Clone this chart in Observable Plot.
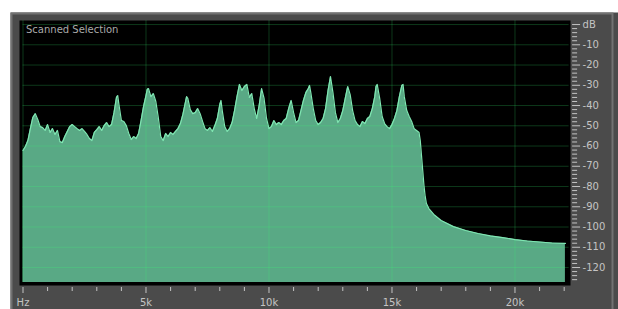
<!DOCTYPE html>
<html>
<head>
<meta charset="utf-8">
<script src="https://cdn.jsdelivr.net/npm/d3@7"></script>
<script src="https://cdn.jsdelivr.net/npm/@observablehq/plot@0.6"></script>
<style>
  html, body { margin: 0; padding: 0; background: #ffffff; }
  #chart svg { display: block; }
</style>
</head>
<body>
<div id="chart"></div>
<script>
// Frequency (kHz) and level (dB)
const freqKHz = [
  0,0.1,0.2,0.3,0.4,0.5,0.6,0.7,0.8,0.9,
  1.0,1.1,1.2,1.3,1.4,1.5,1.6,1.7,1.8,1.9,
  2.0,2.1,2.2,2.3,2.4,2.5,2.6,2.7,2.8,2.9,
  3.0,3.1,3.2,3.3,3.4,3.5,3.6,3.7,3.8,3.85,3.9,
  4.0,4.1,4.2,4.3,4.4,4.5,4.6,4.7,4.8,4.9,
  5.0,5.05,5.1,5.2,5.3,5.4,5.5,5.6,5.7,5.8,5.9,
  6.0,6.1,6.2,6.3,6.4,6.5,6.6,6.65,6.7,6.8,6.9,
  7.0,7.1,7.2,7.3,7.4,7.5,7.6,7.7,7.8,7.9,
  8.0,8.05,8.1,8.2,8.3,8.4,8.5,8.6,8.7,8.8,8.9,
  9.0,9.1,9.2,9.3,9.4,9.5,9.6,9.7,9.8,9.9,
  10.0,10.1,10.2,10.3,10.4,10.5,10.6,10.7,10.8,10.9,
  11.0,11.1,11.2,11.3,11.4,11.5,11.6,11.65,11.7,11.8,11.9,
  12.0,12.1,12.2,12.3,12.4,12.5,12.6,12.7,12.8,12.9,
  13.0,13.1,13.2,13.3,13.4,13.5,13.6,13.7,13.8,13.9,
  14.0,14.1,14.2,14.3,14.35,14.4,14.5,14.6,14.7,14.8,14.9,
  15.0,15.1,15.2,15.3,15.4,15.45,15.5,15.6,15.7,15.8,15.9,
  16.0,16.1,16.15,16.2,16.25,16.3,16.35,16.4,16.5,16.7,
  17.0,17.5,18.0,18.5,19.0,19.5,20.0,20.5,21.0,21.5,22.05
];
const levelDb = [
  -62.2,-60.2,-57.3,-51.4,-45.9,-44.0,-46.9,-50.4,-50.9,-52.3,
  -49.4,-53.3,-51.4,-54.3,-52.3,-57.8,-58.3,-55.3,-52.8,-50.4,
  -49.4,-50.4,-51.4,-52.3,-51.4,-52.8,-54.3,-56.3,-57.3,-53.3,
  -51.9,-50.4,-52.3,-49.9,-48.4,-50.4,-49.4,-43.5,-36.0,-35.1,-39.5,
  -47.4,-47.9,-49.9,-53.8,-56.8,-55.3,-56.3,-53.8,-47.4,-40.5,
  -35.1,-32.1,-31.6,-35.6,-34.1,-38.0,-45.9,-55.3,-57.3,-53.8,-55.3,
  -53.3,-54.3,-52.8,-51.4,-48.9,-44.4,-38.5,-35.6,-36.5,-42.0,-44.0,
  -43.5,-41.5,-44.0,-47.9,-51.4,-52.3,-50.9,-52.8,-49.9,-46.4,
  -39.5,-37.5,-42.5,-50.4,-52.8,-51.4,-48.4,-42.5,-35.6,-29.6,-32.6,
  -30.6,-29.6,-36.0,-34.1,-41.5,-46.4,-40.0,-31.6,-36.5,-46.4,
  -51.4,-50.4,-47.4,-49.4,-48.4,-49.4,-47.4,-46.4,-41.5,-37.5,
  -43.5,-48.4,-47.4,-42.5,-37.5,-33.6,-31.6,-30.1,-33.6,-41.5,-47.4,
  -49.4,-48.4,-46.4,-41.5,-32.6,-25.7,-33.6,-43.5,-48.4,-46.4,
  -42.5,-36.5,-30.6,-34.6,-42.5,-47.4,-49.4,-50.4,-47.9,-48.9,
  -46.4,-45.4,-41.5,-35.6,-30.6,-29.6,-36.5,-45.4,-48.9,-50.4,-51.4,
  -49.4,-46.4,-42.5,-35.6,-30.1,-29.6,-35.6,-42.5,-45.4,-47.9,-51.4,
  -52.3,-53.3,-57.3,-64.7,-72.1,-79.5,-84.9,-88.4,-90.9,-93.8,
  -96.8,-99.8,-101.7,-103.2,-104.4,-105.2,-106.2,-106.9,-107.4,-107.9,-108.1
];

// Axis ticks and labels
const xMajorTicks = [0, 5, 10, 15, 20];
const xMajorLabels = ["Hz", "5k", "10k", "15k", "20k"];
const xMinorTicks = [1,2,3,4,6,7,8,9,11,12,13,14,16,17,18,19,21,22];
const yMajorTicks = [0,-10,-20,-30,-40,-50,-60,-70,-80,-90,-100,-110,-120];
const yMajorLabels = ["dB","-10","-20","-30","-40","-50","-60","-70","-80","-90","-100","-110","-120"];
const yMinorTicks = [-2,-4,-6,-8,-12,-14,-16,-18,-22,-24,-26,-28,-32,-34,-36,-38,-42,-44,-46,-48,
  -52,-54,-56,-58,-62,-64,-66,-68,-72,-74,-76,-78,-82,-84,-86,-88,-92,-94,-96,-98,
  -102,-104,-106,-108,-112,-114,-116,-118,-122,-124,-126];
const gridKHz = [0, 5, 10, 15, 20];
const gridDb = [0,-10,-20,-30,-40,-50,-60,-70,-80,-90,-100,-110,-120];
const titleText = "Scanned Selection";

const xDomain = [0, 22.2];
const yDomain = [-127.4, 2];

const spectrum = freqKHz.map((f, i) => ({f, db: levelDb[i]}));
const xLabel = new Map(xMajorTicks.map((t, i) => [t, xMajorLabels[i]]));
const yLabel = new Map(yMajorTicks.map((t, i) => [t, yMajorLabels[i]]));

const labelColor = "#c4c4c4";

const chart = Plot.plot({
  width: 618,
  height: 309,
  marginLeft: 22.5,
  marginRight: 49.4,
  marginTop: 20,
  marginBottom: 27,
  style: {fontFamily: "'DejaVu Sans', sans-serif", fontSize: "10px", background: "#ffffff", overflow: "hidden"},
  x: {domain: xDomain, label: null},
  y: {domain: yDomain, label: null},
  marks: [
    // outer grey panel
    Plot.frame({fill: "#4b4b4b", insetLeft: -12.5, insetTop: -8, insetRight: -51.4, insetBottom: -30}),
    Plot.frame({stroke: "#727272", strokeWidth: 2, insetLeft: -11.5, insetTop: -7, insetRight: -43.4, insetBottom: -30}),
    // black display
    Plot.frame({fill: "#000000", insetLeft: -3.5, insetRight: -1.4, insetBottom: -3}),
    // spectrum
    Plot.areaY(spectrum, {x: "f", y1: () => yDomain[0], y2: "db", fill: "#59a985"}),
    // grid
    Plot.ruleY(gridDb, {stroke: "#3cff78", strokeOpacity: 0.22}),
    Plot.ruleX(gridKHz, {stroke: "#3cff78", strokeOpacity: 0.22}),
    Plot.line(spectrum, {x: "f", y: "db", stroke: "#7fe6b2", strokeWidth: 1.2}),
    // title
    Plot.text([titleText], {frameAnchor: "top-left", dx: 3, dy: 5.5, fill: "#aaaaaa", fontSize: 10, text: d => d}),
    // x axis
    Plot.axisX({ticks: xMinorTicks, tickSize: 4, dy: 5, tickFormat: () => "", color: labelColor, label: null}),
    Plot.axisX({ticks: xMajorTicks, tickSize: 6, dy: 5, tickPadding: 5.5, tickFormat: d => xLabel.get(d), color: labelColor, label: null}),
    // y axis (right ruler)
    Plot.axisY({anchor: "right", ticks: yMinorTicks, tickSize: 5, dx: 2.5, tickFormat: () => "", color: labelColor, label: null}),
    Plot.axisY({anchor: "right", ticks: yMajorTicks, tickSize: 8, dx: 2.5, tickPadding: 3, tickFormat: d => yLabel.get(d), color: labelColor, label: null})
  ]
});
document.getElementById("chart").appendChild(chart);
</script>
</body>
</html>
